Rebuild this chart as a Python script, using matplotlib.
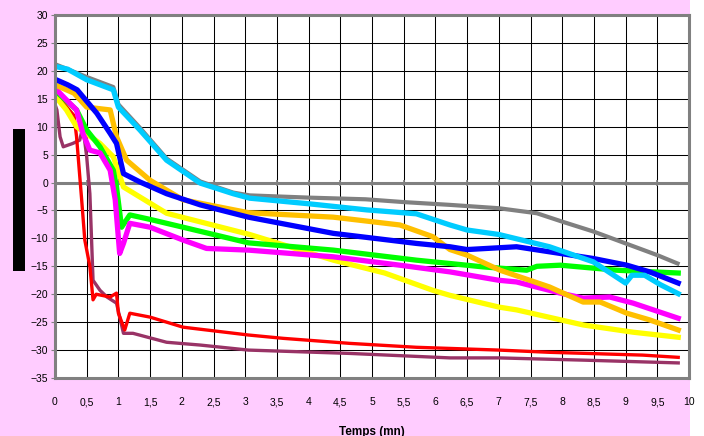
import matplotlib.pyplot as plt
import matplotlib.patches as patches
from matplotlib.ticker import FuncFormatter, MultipleLocator

plt.rcParams['font.family'] = ['Liberation Sans', 'DejaVu Sans']

# --- data (time in mn, value) ---
gray_x = [0, 0.5, 0.92, 1.0, 1.34, 1.76, 2.29, 2.81, 3.07, 4.0, 4.9, 5.5, 6.23, 7.0, 7.6, 8.0, 8.5, 9.0, 9.5, 9.82]
gray_y = [21.2, 18.9, 17.1, 14.0, 9.8, 4.3, 0.2, -1.8, -2.3, -2.7, -3.0, -3.5, -4.0, -4.6, -5.5, -7.0, -8.8, -10.9, -13.0, -14.5]

cyan_x = [0, 0.2, 0.5, 0.92, 1.0, 1.1, 1.34, 1.76, 2.29, 2.81, 3.07, 4.0, 4.92, 5.7, 6.23, 6.5, 7.0, 7.8, 8.49, 9.0, 9.1, 9.3, 9.55, 9.83]
cyan_y = [20.8, 20.3, 18.4, 16.6, 13.5, 12.3, 9.4, 4.0, -0.1, -2.0, -2.8, -3.8, -4.9, -5.6, -7.6, -8.5, -9.3, -11.5, -14.2, -18.0, -16.6, -16.6, -18.3, -19.9]

blue_x = [0, 0.2, 0.35, 0.66, 0.87, 0.97, 1.08, 1.34, 1.76, 2.29, 3.05, 4.39, 5.7, 6.23, 6.5, 7.28, 7.97, 8.49, 9.02, 9.38, 9.83]
blue_y = [18.5, 17.5, 16.6, 12.4, 8.8, 7.0, 1.6, 0.1, -2.0, -4.0, -6.2, -9.1, -10.9, -11.5, -12.0, -11.5, -12.7, -13.6, -14.8, -16.0, -18.0]

orange_x = [0, 0.3, 0.5, 0.87, 0.97, 1.13, 1.5, 2.02, 3.05, 4.39, 5.44, 5.96, 6.23, 6.5, 7.02, 7.8, 8.33, 8.6, 9.02, 9.38, 9.83]
orange_y = [17.5, 16.0, 13.5, 13.0, 8.2, 4.0, 0.4, -3.1, -5.4, -6.2, -7.6, -9.7, -12.0, -13.0, -15.7, -18.7, -21.4, -21.4, -23.4, -24.6, -26.4]

yellow_x = [0, 0.18, 0.34, 0.71, 0.92, 1.08, 1.5, 1.76, 3.07, 4.39, 5.2, 5.96, 6.23, 7.0, 7.28, 8.33, 9.12, 9.83]
yellow_y = [15.5, 13.0, 10.0, 7.0, 4.6, -0.8, -3.7, -5.5, -9.3, -13.9, -16.2, -19.3, -20.2, -22.3, -22.8, -25.5, -26.8, -27.7]

green_x = [0, 0.34, 0.5, 0.71, 0.92, 0.97, 1.05, 1.18, 1.5, 2.02, 3.05, 4.39, 5.7, 6.23, 6.75, 7.44, 7.6, 7.97, 8.86, 9.83]
green_y = [16.5, 13.0, 9.4, 6.4, 2.2, -0.8, -8.0, -5.8, -6.6, -8.0, -10.8, -12.1, -13.9, -14.5, -15.1, -15.7, -15.0, -14.8, -15.7, -16.2]

magenta_x = [0, 0.18, 0.34, 0.44, 0.55, 0.71, 0.87, 0.95, 1.02, 1.08, 1.18, 1.5, 2.02, 2.39, 3.05, 4.39, 5.44, 6.23, 7.0, 7.28, 7.97, 8.33, 8.75, 9.12, 9.83]
magenta_y = [16.9, 14.8, 13.0, 8.8, 5.8, 5.3, 2.2, -3.1, -12.7, -10.9, -7.3, -8.0, -10.3, -11.8, -12.1, -13.3, -14.8, -16.0, -17.5, -17.8, -19.8, -20.7, -20.5, -21.6, -24.3]

red_x = [0, 0.3, 0.34, 0.42, 0.47, 0.55, 0.6, 0.65, 0.87, 0.97, 1.0, 1.1, 1.18, 1.5, 2.02, 3.05, 3.6, 4.65, 5.7, 7.0, 7.8, 9.27, 9.83]
red_y = [16.0, 12.0, 8.2, -3.0, -10.3, -15.0, -21.0, -20.0, -20.5, -19.8, -23.4, -26.4, -23.4, -24.1, -25.9, -27.3, -27.9, -28.8, -29.5, -30.0, -30.4, -30.9, -31.3]

purple_x = [0, 0.03, 0.08, 0.13, 0.28, 0.39, 0.44, 0.5, 0.55, 0.6, 0.71, 0.82, 0.97, 1.08, 1.23, 1.76, 2.29, 3.05, 4.65, 6.23, 7.0, 8.33, 9.83]
purple_y = [14.0, 13.0, 8.2, 6.4, 7.0, 7.6, 10.0, 4.6, -2.0, -17.5, -19.3, -20.5, -21.6, -27.0, -27.0, -28.6, -29.1, -30.0, -30.6, -31.4, -31.4, -31.8, -32.3]

x_ticks = [i * 0.5 for i in range(21)]

# --- figure ---
fig = plt.figure(figsize=(7.04, 4.36), dpi=100, facecolor='#FFCCFF')
fig.patches.append(patches.Rectangle((690 / 704, 0), 14 / 704, 1, transform=fig.transFigure,
                                     facecolor='white', edgecolor='none', zorder=-1))
fig.patches.append(patches.Rectangle((13 / 704, 1 - 271 / 436), 12 / 704, 142 / 436,
                                     transform=fig.transFigure, facecolor='black', edgecolor='none'))

ax = fig.add_axes([55 / 704, 1 - 378 / 436, 634 / 704, 363 / 436])
ax.set_facecolor('white')
ax.set_xlim(0, 10)
ax.set_ylim(-35, 30)
ax.xaxis.set_major_locator(MultipleLocator(0.5))
ax.yaxis.set_major_locator(MultipleLocator(5))
ax.grid(True, color='black', lw=0.75)
ax.set_axisbelow(True)

for s in ax.spines.values():
    s.set_color('#808080')
    s.set_linewidth(2.2)

ax.axhline(0, color='#808080', lw=2.2, zorder=1.5)
ax.plot(x_ticks, [0] * len(x_ticks), '|', color='#808080', ms=5, mew=1.2, zorder=1.6)

ax.plot(gray_x, gray_y, color='#808080', lw=3.0)
ax.plot(purple_x, purple_y, color='#993366', lw=2.4)
ax.plot(red_x, red_y, color='#FF0000', lw=2.4)
ax.plot(yellow_x, yellow_y, color='#FFFF00', lw=3.8)
ax.plot(green_x, green_y, color='#00FF00', lw=3.8)
ax.plot(magenta_x, magenta_y, color='#FF00FF', lw=3.8)
ax.plot(orange_x, orange_y, color='#FFC000', lw=3.8)
ax.plot(blue_x, blue_y, color='#0000FF', lw=3.8)
ax.plot(cyan_x, cyan_y, color='#00CCFF', lw=3.8)

ax.tick_params(axis='y', direction='out', length=3, color='#808080', labelsize=7.5, pad=2)
ax.tick_params(axis='x', length=0, labelsize=7.5, pad=14)
ax.xaxis.set_major_formatter(FuncFormatter(lambda v, p: ('%g' % v).replace('.', ',')))
ax.set_xlabel('Temps (mn)', fontsize=8.5, fontweight='bold', labelpad=13)

fig.savefig('out.png', dpi=100, facecolor=fig.get_facecolor())
